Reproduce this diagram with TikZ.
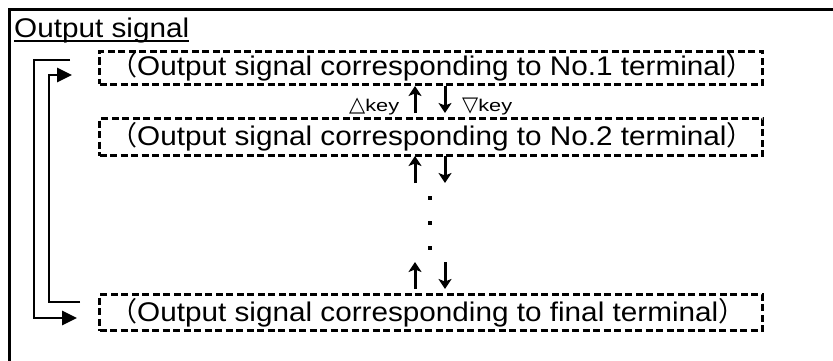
\documentclass[tikz,border=0pt]{standalone}
\usepackage{fontspec}
\setmainfont[FakeStretch=1.1]{Liberation Sans}
\newfontfamily\cjk{Noto Sans CJK JP}
\newfontfamily\keyfont[FakeStretch=1.28]{Liberation Sans}
\newfontfamily\sym{DejaVu Sans}
\usetikzlibrary{arrows.meta}
\begin{document}
\begin{tikzpicture}[x=1pt,y=-1pt,
  dbox/.style={draw, line width=3pt, dash pattern=on 7pt off 3.5pt, inner sep=0pt, anchor=north west, minimum width=663pt},
  maintext/.style={inner sep=0pt, anchor=base west, font=\fontsize{27}{30}\selectfont},
  keytext/.style={inner sep=0pt, anchor=base west, font=\keyfont\fontsize{17}{20}\selectfont},
  keyarrow/.style={line width=3pt, -{Stealth[length=10pt,width=13pt,inset=2.5pt]}},
  looparrow/.style={line width=2.8pt, -{Triangle[length=15pt,width=14pt]}},
  dotmark/.style={fill, inner sep=0pt, minimum size=3.8pt}
]
\useasboundingbox (0,0) rectangle (833,361);
% frame
\draw[line width=3.8pt] (9.5,365) -- (9.5,9.5) -- (840,9.5);
% title
\node[maintext] (t0) at (14,38) {Output signal};
\draw[line width=1.9pt] ([yshift=-3pt]t0.base west) -- ([yshift=-3pt]t0.base east);
% boxes
\node[dbox, minimum height=33pt] (b1) at (98,50) {};
\node[dbox, minimum height=37pt] (b2) at (98,117) {};
\node[dbox, minimum height=36pt] (b3) at (98,293) {};
\node[maintext] (t1) at (110,76) {{\cjk （}Output signal corresponding to No.1 terminal{\cjk ）}};
\node[maintext] (t2) at (110,145) {{\cjk （}Output signal corresponding to No.2 terminal{\cjk ）}};
\node[maintext] (t3) at (110,321) {{\cjk （}Output signal corresponding to final terminal{\cjk ）}};
% key labels
\node[keytext] (k1) at (349,111) {{\sym\fontsize{21}{24}\selectfont △}key};
\node[keytext] (k2) at (462,111) {{\sym\fontsize{21}{24}\selectfont ▽}key};
% key arrows
\coordinate (u1) at (415,113); \coordinate (u1t) at (415,86);
\coordinate (d1) at (445,86); \coordinate (d1t) at (445,113);
\draw[keyarrow] (u1) -- (u1t);
\draw[keyarrow] (d1) -- (d1t);
\coordinate (u2) at (415,183); \coordinate (u2t) at (415,156);
\coordinate (d2) at (445,156); \coordinate (d2t) at (445,183);
\draw[keyarrow] (u2) -- (u2t);
\draw[keyarrow] (d2) -- (d2t);
\coordinate (u3) at (415,289); \coordinate (u3t) at (415,262);
\coordinate (d3) at (445,262); \coordinate (d3t) at (445,289);
\draw[keyarrow] (u3) -- (u3t);
\draw[keyarrow] (d3) -- (d3t);
% dots
\node[dotmark] (p1) at (430,198) {};
\node[dotmark] (p2) at (430,223) {};
\node[dotmark] (p3) at (430,248) {};
% loop arrows
\coordinate (oS) at (70,60); \coordinate (oC) at (34,318); \coordinate (oE) at (77,318);
\draw[looparrow] (oS) -| (oC) -- (oE);
\coordinate (iS) at (80,302); \coordinate (iC) at (49,75); \coordinate (iE) at (72,75);
\draw[looparrow] (iS) -| (iC) -- (iE);
\end{tikzpicture}
\end{document}
